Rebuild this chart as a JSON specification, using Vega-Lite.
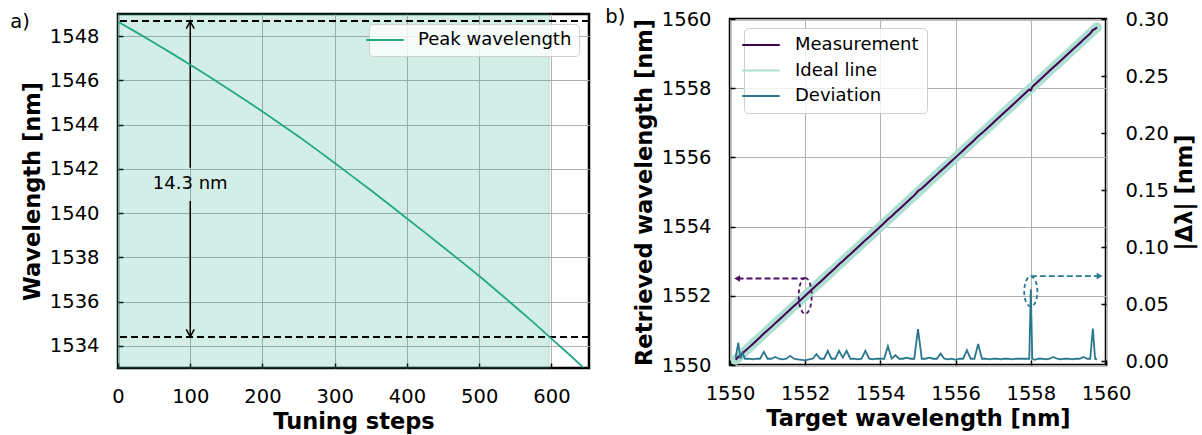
{
  "$schema": "https://vega.github.io/schema/vega-lite/v6.json",
  "background": "white",
  "padding": {"left": 9, "top": 5, "right": 5, "bottom": 2},
  "spacing": 12,
  "resolve": {"scale": {"color": "independent"}, "legend": {"color": "independent"}},
  "hconcat": [
    {
      "width": 471,
      "height": 354,
      "title": {"text": "a)", "offset": -16.5, "dx": -11, "dy": 2},
      "layer": [
        {
          "data": {"values": [{"step": 0, "step2": 597}]},
          "mark": {"type": "rect", "fill": "#22a884", "fillOpacity": 0.2, "stroke": "#22a884", "strokeOpacity": 0.25, "strokeWidth": 1},
          "encoding": {
            "x": {"field": "step", "type": "quantitative", "scale": {"domain": [0, 652], "nice": false, "zero": false}, "axis": {"title": "Tuning steps", "values": [0, 100, 200, 300, 400, 500, 600], "format": "d"}},
            "x2": {"field": "step2"}
          }
        },
        {
          "data": {"values": [{"wl": 1548.68}, {"wl": 1534.4}]},
          "mark": {"type": "rule", "color": "black", "strokeWidth": 2, "strokeDash": [7, 4]},
          "encoding": {
            "y": {"field": "wl", "type": "quantitative", "scale": {"domain": [1533, 1549], "nice": false, "zero": false}, "axis": {"title": "Wavelength [nm]", "values": [1534, 1536, 1538, 1540, 1542, 1544, 1546, 1548], "format": "d"}}
          }
        },
        {
          "data": {"values": [{"step": 100, "wl": 1542.05, "wl2": 1548.6}, {"step": 100, "wl": 1540.55, "wl2": 1534.48}]},
          "mark": {"type": "rule", "color": "black", "strokeWidth": 1.5},
          "encoding": {
            "x": {"field": "step", "type": "quantitative", "title": "Tuning steps"},
            "y": {"field": "wl", "type": "quantitative", "title": "Wavelength [nm]"},
            "y2": {"field": "wl2"}
          }
        },
        {
          "data": {"values": [{"step": 100, "wl": 1548.66}]},
          "mark": {"type": "point", "shape": "M-0.5,0.9L0,0L0.5,0.9", "size": 256, "filled": false, "stroke": "black", "strokeWidth": 1.5, "opacity": 1},
          "encoding": {
            "x": {"field": "step", "type": "quantitative", "title": "Tuning steps"},
            "y": {"field": "wl", "type": "quantitative", "title": "Wavelength [nm]"}
          }
        },
        {
          "data": {"values": [{"step": 100, "wl": 1534.42}]},
          "mark": {"type": "point", "shape": "M-0.5,-0.9L0,0L0.5,-0.9", "size": 256, "filled": false, "stroke": "black", "strokeWidth": 1.5, "opacity": 1},
          "encoding": {
            "x": {"field": "step", "type": "quantitative", "title": "Tuning steps"},
            "y": {"field": "wl", "type": "quantitative", "title": "Wavelength [nm]"}
          }
        },
        {
          "data": {"values": [{"step": 100, "wl": 1541.3, "label": "14.3 nm"}]},
          "mark": {"type": "text", "fontSize": 18, "color": "black", "align": "center", "baseline": "middle", "font": "DejaVu Sans"},
          "encoding": {
            "x": {"field": "step", "type": "quantitative", "title": "Tuning steps"},
            "y": {"field": "wl", "type": "quantitative", "title": "Wavelength [nm]"},
            "text": {"field": "label"}
          }
        },
        {
          "data": {"values": [
            {"step": 0, "wl": 1548.65}, {"step": 25, "wl": 1548.18}, {"step": 50, "wl": 1547.70}, {"step": 75, "wl": 1547.21},
            {"step": 100, "wl": 1546.71}, {"step": 125, "wl": 1546.20}, {"step": 150, "wl": 1545.67}, {"step": 175, "wl": 1545.14},
            {"step": 200, "wl": 1544.59}, {"step": 225, "wl": 1544.03}, {"step": 250, "wl": 1543.46}, {"step": 275, "wl": 1542.87},
            {"step": 300, "wl": 1542.27}, {"step": 325, "wl": 1541.65}, {"step": 350, "wl": 1541.03}, {"step": 375, "wl": 1540.40},
            {"step": 400, "wl": 1539.76}, {"step": 425, "wl": 1539.12}, {"step": 450, "wl": 1538.47}, {"step": 475, "wl": 1537.82},
            {"step": 500, "wl": 1537.16}, {"step": 525, "wl": 1536.47}, {"step": 550, "wl": 1535.77}, {"step": 575, "wl": 1535.06},
            {"step": 600, "wl": 1534.33}, {"step": 625, "wl": 1533.60}, {"step": 644, "wl": 1533.03}
          ]},
          "mark": {"type": "line", "strokeWidth": 1.8},
          "encoding": {
            "x": {"field": "step", "type": "quantitative", "title": "Tuning steps"},
            "y": {"field": "wl", "type": "quantitative", "title": "Wavelength [nm]"},
            "color": {"datum": "Peak wavelength", "scale": {"domain": ["Peak wavelength"], "range": ["#22a884"]},
              "legend": {"orient": "top-right", "offset": 10, "title": null, "padding": 7, "labelOffset": 24}}
          }
        }
      ]
    },
    {
      "spacing": -10,
      "vconcat": [
        {
          "width": 376,
          "height": 1,
          "view": {"stroke": null},
          "data": {"values": []},
          "mark": {"type": "point", "opacity": 0},
          "encoding": {
            "x": {"field": "k", "type": "quantitative", "axis": null},
            "y": {"field": "k", "type": "quantitative", "axis": null}
          }
        },
        {
          "width": 376,
          "height": 346,
          "title": {"text": "b)", "offset": -18, "dx": -28, "dy": 2},
          "data": {"values": [
            {"t": 1550.15, "d": 0.003, "r": 1550.153}, {"t": 1550.22, "d": 0.016, "r": 1550.236}, {"t": 1550.28, "d": 0.002, "r": 1550.282},
            {"t": 1550.33, "d": 0.007, "r": 1550.337}, {"t": 1550.4, "d": 0.002, "r": 1550.402}, {"t": 1550.5, "d": 0.002, "r": 1550.502},
            {"t": 1550.6, "d": 0.0015, "r": 1550.6015}, {"t": 1550.7, "d": 0.002, "r": 1550.702}, {"t": 1550.8, "d": 0.002, "r": 1550.802},
            {"t": 1550.9, "d": 0.008, "r": 1550.908}, {"t": 1551.0, "d": 0.002, "r": 1551.002}, {"t": 1551.1, "d": 0.002, "r": 1551.102},
            {"t": 1551.2, "d": 0.0035, "r": 1551.2035}, {"t": 1551.3, "d": 0.002, "r": 1551.302}, {"t": 1551.4, "d": 0.0015, "r": 1551.4015},
            {"t": 1551.5, "d": 0.002, "r": 1551.502}, {"t": 1551.6, "d": 0.0045, "r": 1551.6045}, {"t": 1551.7, "d": 0.002, "r": 1551.702},
            {"t": 1551.8, "d": 0.0015, "r": 1551.8015}, {"t": 1551.9, "d": 0.001, "r": 1551.901}, {"t": 1552.0, "d": 0.0005, "r": 1552.0005},
            {"t": 1552.1, "d": 0.0015, "r": 1552.1015}, {"t": 1552.2, "d": 0.002, "r": 1552.202}, {"t": 1552.3, "d": 0.006, "r": 1552.306},
            {"t": 1552.4, "d": 0.002, "r": 1552.402}, {"t": 1552.5, "d": 0.002, "r": 1552.502}, {"t": 1552.6, "d": 0.009, "r": 1552.609},
            {"t": 1552.7, "d": 0.002, "r": 1552.702}, {"t": 1552.8, "d": 0.002, "r": 1552.802}, {"t": 1552.9, "d": 0.009, "r": 1552.909},
            {"t": 1553.0, "d": 0.003, "r": 1553.003}, {"t": 1553.1, "d": 0.009, "r": 1553.109}, {"t": 1553.2, "d": 0.002, "r": 1553.202},
            {"t": 1553.3, "d": 0.002, "r": 1553.302}, {"t": 1553.4, "d": 0.0015, "r": 1553.4015}, {"t": 1553.5, "d": 0.002, "r": 1553.502},
            {"t": 1553.6, "d": 0.009, "r": 1553.609}, {"t": 1553.7, "d": 0.002, "r": 1553.702}, {"t": 1553.8, "d": 0.0015, "r": 1553.8015},
            {"t": 1553.9, "d": 0.002, "r": 1553.902}, {"t": 1554.0, "d": 0.002, "r": 1554.002}, {"t": 1554.1, "d": 0.002, "r": 1554.102},
            {"t": 1554.2, "d": 0.013, "r": 1554.213}, {"t": 1554.3, "d": 0.002, "r": 1554.302}, {"t": 1554.4, "d": 0.005, "r": 1554.405},
            {"t": 1554.5, "d": 0.002, "r": 1554.502}, {"t": 1554.6, "d": 0.002, "r": 1554.602}, {"t": 1554.7, "d": 0.003, "r": 1554.703},
            {"t": 1554.8, "d": 0.002, "r": 1554.802}, {"t": 1554.9, "d": 0.002, "r": 1554.902}, {"t": 1555.0, "d": 0.028, "r": 1555.028},
            {"t": 1555.1, "d": 0.002, "r": 1555.102}, {"t": 1555.2, "d": 0.002, "r": 1555.202}, {"t": 1555.3, "d": 0.003, "r": 1555.303},
            {"t": 1555.4, "d": 0.002, "r": 1555.402}, {"t": 1555.5, "d": 0.002, "r": 1555.502}, {"t": 1555.6, "d": 0.0065, "r": 1555.6065},
            {"t": 1555.7, "d": 0.002, "r": 1555.702}, {"t": 1555.8, "d": 0.0015, "r": 1555.8015}, {"t": 1555.9, "d": 0.002, "r": 1555.902},
            {"t": 1556.0, "d": 0.001, "r": 1556.001}, {"t": 1556.1, "d": 0.002, "r": 1556.102}, {"t": 1556.2, "d": 0.002, "r": 1556.202},
            {"t": 1556.3, "d": 0.0095, "r": 1556.3095}, {"t": 1556.4, "d": 0.002, "r": 1556.402}, {"t": 1556.5, "d": 0.002, "r": 1556.502},
            {"t": 1556.6, "d": 0.015, "r": 1556.615}, {"t": 1556.7, "d": 0.002, "r": 1556.702}, {"t": 1556.8, "d": 0.002, "r": 1556.802},
            {"t": 1556.9, "d": 0.0015, "r": 1556.9015}, {"t": 1557.0, "d": 0.002, "r": 1557.002}, {"t": 1557.1, "d": 0.002, "r": 1557.102},
            {"t": 1557.2, "d": 0.0015, "r": 1557.2015}, {"t": 1557.3, "d": 0.002, "r": 1557.302}, {"t": 1557.4, "d": 0.002, "r": 1557.402},
            {"t": 1557.5, "d": 0.0015, "r": 1557.5015}, {"t": 1557.6, "d": 0.002, "r": 1557.602}, {"t": 1557.7, "d": 0.002, "r": 1557.702},
            {"t": 1557.8, "d": 0.002, "r": 1557.802}, {"t": 1557.9, "d": 0.002, "r": 1557.902}, {"t": 1557.96, "d": 0.002, "r": 1557.962},
            {"t": 1558.0, "d": 0.063, "r": 1557.937}, {"t": 1558.04, "d": 0.002, "r": 1558.042}, {"t": 1558.1, "d": 0.001, "r": 1558.101},
            {"t": 1558.2, "d": 0.002, "r": 1558.202}, {"t": 1558.3, "d": 0.002, "r": 1558.302}, {"t": 1558.4, "d": 0.0015, "r": 1558.4015},
            {"t": 1558.5, "d": 0.002, "r": 1558.502}, {"t": 1558.6, "d": 0.0035, "r": 1558.6035}, {"t": 1558.7, "d": 0.002, "r": 1558.702},
            {"t": 1558.8, "d": 0.0015, "r": 1558.8015}, {"t": 1558.9, "d": 0.002, "r": 1558.902}, {"t": 1559.0, "d": 0.002, "r": 1559.002},
            {"t": 1559.1, "d": 0.0015, "r": 1559.1015}, {"t": 1559.2, "d": 0.002, "r": 1559.202}, {"t": 1559.3, "d": 0.002, "r": 1559.302},
            {"t": 1559.4, "d": 0.0035, "r": 1559.4035}, {"t": 1559.5, "d": 0.002, "r": 1559.502}, {"t": 1559.58, "d": 0.002, "r": 1559.582},
            {"t": 1559.65, "d": 0.0285, "r": 1559.6785}, {"t": 1559.71, "d": 0.002, "r": 1559.712}, {"t": 1559.76, "d": 0.0015, "r": 1559.7615}
          ]},
          "resolve": {"scale": {"y": "independent"}},
          "layer": [
            {
              "layer": [
                {
                  "mark": {"type": "line", "strokeWidth": 10, "strokeCap": "round"},
                  "encoding": {
                    "x": {"field": "t", "type": "quantitative", "scale": {"domain": [1550, 1560], "nice": false, "zero": false}, "axis": {"title": "Target wavelength [nm]", "values": [1550, 1552, 1554, 1556, 1558, 1560], "format": "d"}},
                    "y": {"field": "t", "type": "quantitative", "scale": {"domain": [1550, 1560], "nice": false, "zero": false}, "axis": {"title": "Retrieved wavelength [nm]", "values": [1550, 1552, 1554, 1556, 1558, 1560], "format": "d"}},
                    "color": {"datum": "Ideal line", "scale": {"domain": ["Measurement", "Ideal line", "Deviation"], "range": ["#440154", "#aedfd2", "#2a788e"]},
                      "legend": {"orient": "top-left", "offset": 14, "title": null, "padding": 8, "labelOffset": 25, "rowPadding": 7.5,
                        "encode": {"symbols": {"update": {
                          "strokeWidth": {"condition": {"test": "datum.value === 'Ideal line'", "value": 10}, "value": 2},
                          "strokeCap": {"condition": {"test": "datum.value === 'Ideal line'", "value": "square"}, "value": "butt"}}}}}}
                  }
                },
                {
                  "mark": {"type": "line", "strokeWidth": 2},
                  "encoding": {
                    "x": {"field": "t", "type": "quantitative", "title": "Target wavelength [nm]"},
                    "y": {"field": "r", "type": "quantitative", "title": "Retrieved wavelength [nm]"},
                    "color": {"datum": "Measurement"}
                  }
                },
                {
                  "data": {"values": [{"t": 1550.2, "t2": 1551.98, "r": 1552.5}]},
                  "mark": {"type": "rule", "color": "#4b1060", "strokeWidth": 1.8, "strokeDash": [6, 3]},
                  "encoding": {
                    "x": {"field": "t", "type": "quantitative", "title": "Target wavelength [nm]"},
                    "x2": {"field": "t2"},
                    "y": {"field": "r", "type": "quantitative", "title": "Retrieved wavelength [nm]"}
                  }
                },
                {
                  "data": {"values": [{"t": 1550.19, "r": 1552.5}]},
                  "mark": {"type": "point", "shape": "triangle-left", "size": 45, "filled": true, "color": "#4b1060", "opacity": 1},
                  "encoding": {
                    "x": {"field": "t", "type": "quantitative", "title": "Target wavelength [nm]"},
                    "y": {"field": "r", "type": "quantitative", "title": "Retrieved wavelength [nm]"}
                  }
                },
                {
                  "data": {"values": [{"t": 1552.0, "r": 1552.0}]},
                  "mark": {"type": "point", "shape": "M0,-1C0.2,-1 0.36,-0.552 0.36,0C0.36,0.552 0.2,1 0,1C-0.2,1 -0.36,0.552 -0.36,0C-0.36,-0.552 -0.2,-1 0,-1Z", "size": 1296, "filled": false, "stroke": "#4b1060", "strokeWidth": 1.8, "strokeDash": [4, 3], "opacity": 1},
                  "encoding": {
                    "x": {"field": "t", "type": "quantitative", "title": "Target wavelength [nm]"},
                    "y": {"field": "r", "type": "quantitative", "title": "Retrieved wavelength [nm]"}
                  }
                }
              ]
            },
            {
              "layer": [
                {
                  "mark": {"type": "line", "strokeWidth": 1.8},
                  "encoding": {
                    "x": {"field": "t", "type": "quantitative", "title": "Target wavelength [nm]"},
                    "y": {"field": "d", "type": "quantitative", "scale": {"domain": [-0.0035, 0.3], "nice": false, "zero": false},
                      "axis": {"orient": "right", "title": "|Δλ| [nm]", "values": [0, 0.05, 0.1, 0.15, 0.2, 0.25, 0.3], "format": ".2f", "grid": false, "titleAngle": 270, "titleBaseline": "top"}},
                    "color": {"datum": "Deviation"}
                  }
                },
                {
                  "data": {"values": [{"t": 1558.0, "t2": 1559.82, "d": 0.0745}]},
                  "mark": {"type": "rule", "color": "#2a788e", "strokeWidth": 1.8, "strokeDash": [6, 3]},
                  "encoding": {
                    "x": {"field": "t", "type": "quantitative", "title": "Target wavelength [nm]"},
                    "x2": {"field": "t2"},
                    "y": {"field": "d", "type": "quantitative", "title": "|Δλ| [nm]"}
                  }
                },
                {
                  "data": {"values": [{"t": 1559.83, "d": 0.0745}]},
                  "mark": {"type": "point", "shape": "triangle-right", "size": 45, "filled": true, "color": "#2a788e", "opacity": 1},
                  "encoding": {
                    "x": {"field": "t", "type": "quantitative", "title": "Target wavelength [nm]"},
                    "y": {"field": "d", "type": "quantitative", "title": "|Δλ| [nm]"}
                  }
                },
                {
                  "data": {"values": [{"t": 1558.0, "d": 0.061}]},
                  "mark": {"type": "point", "shape": "M0,-1C0.243,-1 0.44,-0.552 0.44,0C0.44,0.552 0.243,1 0,1C-0.243,1 -0.44,0.552 -0.44,0C-0.44,-0.552 -0.243,-1 0,-1Z", "size": 900, "filled": false, "stroke": "#2a788e", "strokeWidth": 1.8, "strokeDash": [4, 3], "opacity": 1},
                  "encoding": {
                    "x": {"field": "t", "type": "quantitative", "title": "Target wavelength [nm]"},
                    "y": {"field": "d", "type": "quantitative", "title": "|Δλ| [nm]"}
                  }
                }
              ]
            }
          ]
        }
      ]
    }
  ],
  "config": {
    "font": "DejaVu Sans",
    "view": {"stroke": "black", "strokeWidth": 2.5},
    "axis": {
      "domain": false, "grid": true, "gridColor": "#b0b0b0", "gridWidth": 1,
      "ticks": true, "tickColor": "black", "tickSize": -5, "tickWidth": 1.5,
      "labelFont": "DejaVu Sans", "labelFontSize": 19.5, "labelColor": "black", "labelPadding": 24,
      "labelFlush": false, "labelOverlap": false,
      "titleFont": "DejaVu Sans", "titleFontSize": 22.5, "titleFontWeight": "bold", "titleColor": "black", "titlePadding": 5
    },
    "legend": {
      "labelFont": "DejaVu Sans", "labelFontSize": 18, "labelColor": "black",
      "symbolType": "M-2.5,0L2.5,0", "symbolSize": 225, "symbolStrokeWidth": 2,
      "fillColor": "rgba(255,255,255,0.8)", "strokeColor": "#d0d0d0", "cornerRadius": 4
    },
    "title": {"font": "DejaVu Sans", "fontSize": 19.5, "fontWeight": "normal", "anchor": "start", "frame": "bounds", "color": "black", "baseline": "alphabetic", "orient": "top"}
  }
}
